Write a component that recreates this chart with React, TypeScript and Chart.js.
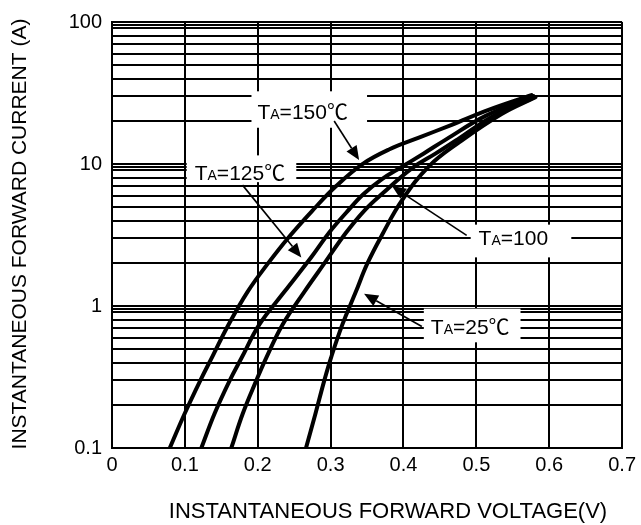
import React, { useEffect, useRef } from 'react';
import { Chart, registerables } from 'chart.js';

Chart.register(...registerables);

const FONT_FAMILY = '"Liberation Sans", Arial, Helvetica, sans-serif';
const SYMBOL_FAMILY = '"Liberation Sans", "Noto Sans CJK SC", "DejaVu Sans", sans-serif';

// ---- data (forward voltage V, forward current A) ----
const seriesNames = ['TA=150℃', 'TA=125℃', 'TA=100℃', 'TA=25℃'];

const v150 = [0.0793, 0.0998, 0.1203, 0.1381, 0.1586, 0.186, 0.2133, 0.2434, 0.2748, 0.3076, 0.3432, 0.3801, 0.4211, 0.4662, 0.5168, 0.5756];
const i150 = [0.1, 0.175, 0.2925, 0.444, 0.718, 1.258, 1.971, 3.087, 4.683, 6.99, 9.95, 12.65, 15.33, 18.88, 24.02, 30.54];

const v125 = [0.1226, 0.1408, 0.1613, 0.1777, 0.2023, 0.2365, 0.2734, 0.2981, 0.3213, 0.3445, 0.3705, 0.3979, 0.4279, 0.458, 0.5127, 0.5783];
const i125 = [0.1, 0.175, 0.297, 0.43, 0.742, 1.258, 2.204, 3.291, 4.535, 6.1, 7.82, 9.555, 11.87, 14.85, 21.82, 30.06];

const v100 = [0.1637, 0.1795, 0.1978, 0.2115, 0.2342, 0.2639, 0.2926, 0.3213, 0.3473, 0.3719, 0.4115, 0.4444, 0.4758, 0.521, 0.5797];
const i100 = [0.1, 0.175, 0.297, 0.43, 0.742, 1.258, 2.035, 3.291, 4.76, 6.25, 9.33, 11.87, 15.09, 21.47, 29.58];

const v25 = [0.2662, 0.2789, 0.2912, 0.3004, 0.3162, 0.3346, 0.35, 0.3709, 0.3983, 0.4348, 0.4758, 0.5346, 0.5811];
const i25 = [0.1, 0.1723, 0.297, 0.43, 0.742, 1.258, 1.971, 3.188, 5.585, 9.63, 14.15, 22.52, 29.58];

const seriesV = [v150, v125, v100, v25];
const seriesI = [i150, i125, i100, i25];

// ---- axes ----
const xTickValues = [0, 0.1, 0.2, 0.3, 0.4, 0.5, 0.6, 0.7];
const xTickLabels = ['0', '0.1', '0.2', '0.3', '0.4', '0.5', '0.6', '0.7'];
const yGridValues = [
  0.1, 0.2, 0.3, 0.4, 0.5, 0.6, 0.7, 0.8, 0.9, 0.95,
  1, 2, 3, 4, 5, 6, 7, 8, 9, 9.5,
  10, 20, 30, 40, 50, 60, 70, 80, 90, 95,
  100,
];
const yLabelValues = [0.1, 1, 10, 100];
const yLabelTexts = ['0.1', '1', '10', '100'];

const xTitle = 'INSTANTANEOUS FORWARD VOLTAGE(V)';
const yTitle = 'INSTANTANEOUS FORWARD CURRENT (A)';

// ---- annotations (data coordinates) ----
const annoLabels = ['TA=150℃', 'TA=125℃', 'TA=100', 'TA=25℃'];
const annoTextV = [0.1996, 0.1135, 0.5031, 0.4375];
const annoTextBaseI = [20.8, 7.73, 2.67, 0.631];
const annoBoxV0 = [0.1914, 0.1025, 0.4922, 0.4279];
const annoBoxV1 = [0.35, 0.2529, 0.6303, 0.5606];
const annoBoxITop = [32.5, 11.5, 3.74, 0.958];
const annoBoxIBottom = [18.0, 7.45, 2.20, 0.555];
const arrowTailV = [0.3049, 0.1791, 0.4867, 0.4252];
const arrowTailI = [20.1, 7.10, 3.14, 0.718];
const arrowTipV = [0.3391, 0.2598, 0.3842, 0.3459];
const arrowTipI = [10.66, 2.20, 6.99, 1.218];

function drawArrow(ctx: CanvasRenderingContext2D, x0: number, y0: number, x1: number, y1: number) {
  const ang = Math.atan2(y1 - y0, x1 - x0);
  const headLen = 14;
  const headHalf = 6;
  const bx = x1 - headLen * Math.cos(ang);
  const by = y1 - headLen * Math.sin(ang);
  ctx.strokeStyle = '#000';
  ctx.fillStyle = '#000';
  ctx.lineWidth = 1.6;
  ctx.beginPath();
  ctx.moveTo(x0, y0);
  ctx.lineTo(bx, by);
  ctx.stroke();
  ctx.beginPath();
  ctx.moveTo(x1, y1);
  ctx.lineTo(bx - headHalf * Math.sin(ang), by + headHalf * Math.cos(ang));
  ctx.lineTo(bx + headHalf * Math.sin(ang), by - headHalf * Math.cos(ang));
  ctx.closePath();
  ctx.fill();
}

const annotationPlugin = {
  id: 'curveAnnotations',
  afterDraw(chart: any) {
    const { ctx } = chart;
    const xs = chart.scales.x;
    const ys = chart.scales.y;
    ctx.save();
    for (let i = 0; i < annoLabels.length; i++) {
      const bx0 = xs.getPixelForValue(annoBoxV0[i]);
      const bx1 = xs.getPixelForValue(annoBoxV1[i]);
      const by0 = ys.getPixelForValue(annoBoxITop[i]);
      const by1 = ys.getPixelForValue(annoBoxIBottom[i]);
      ctx.fillStyle = '#fff';
      ctx.fillRect(bx0, by0, bx1 - bx0, by1 - by0);

      drawArrow(
        ctx,
        xs.getPixelForValue(arrowTailV[i]),
        ys.getPixelForValue(arrowTailI[i]),
        xs.getPixelForValue(arrowTipV[i]),
        ys.getPixelForValue(arrowTipI[i]),
      );

      const label = annoLabels[i];
      let tx = xs.getPixelForValue(annoTextV[i]);
      const ty = ys.getPixelForValue(annoTextBaseI[i]);
      ctx.fillStyle = '#000';
      ctx.textBaseline = 'alphabetic';
      ctx.textAlign = 'left';
      ctx.font = `21px ${FONT_FAMILY}`;
      ctx.fillText(label[0], tx, ty);
      tx += ctx.measureText(label[0]).width;
      ctx.font = `14px ${FONT_FAMILY}`;
      ctx.fillText(label[1], tx, ty);
      tx += ctx.measureText(label[1]).width;
      ctx.font = `21px ${SYMBOL_FAMILY}`;
      ctx.fillText(label.slice(2), tx, ty);
    }

    // axis titles
    const ca = chart.chartArea;
    ctx.fillStyle = '#000';
    ctx.textAlign = 'center';
    ctx.textBaseline = 'middle';
    ctx.font = `22px ${FONT_FAMILY}`;
    ctx.fillText(xTitle, ca.left + (ca.right - ca.left) * 0.541, 512);
    ctx.font = `21px ${FONT_FAMILY}`;
    ctx.save();
    ctx.translate(20, (ca.top + ca.bottom) / 2 - 1);
    ctx.rotate(-Math.PI / 2);
    ctx.fillText(yTitle, 0, 0);
    ctx.restore();
    ctx.restore();
  },
};

export default function App() {
  const canvasRef = useRef<HTMLCanvasElement>(null);

  useEffect(() => {
    const canvas = canvasRef.current;
    if (!canvas) return;
    const datasets = seriesNames.map((name, k) => ({
      label: name,
      data: seriesV[k].map((v, j) => ({ x: v, y: seriesI[k][j] })),
      borderColor: '#000',
      backgroundColor: '#000',
      borderWidth: 4,
      pointRadius: 0,
      fill: false,
      tension: 0.4,
      borderCapStyle: 'round' as const,
      borderJoinStyle: 'round' as const,
    }));

    const chart = new Chart(canvas, {
      type: 'line',
      data: { datasets },
      options: {
        responsive: false,
        animation: false,
        layout: { padding: { left: 0, right: 17, top: 17, bottom: 0 } },
        plugins: {
          legend: { display: false },
          tooltip: { enabled: false },
          title: { display: false },
        },
        scales: {
          x: {
            type: 'linear',
            min: 0,
            max: 0.7,
            afterBuildTicks: (s: any) => {
              s.ticks = xTickValues.map((value) => ({ value }));
            },
            afterFit: (s: any) => {
              s.height = 77;
            },
            ticks: {
              autoSkip: false,
              maxRotation: 0,
              padding: 5,
              color: '#000',
              font: { family: FONT_FAMILY, size: 20 },
              callback: (_v: any, i: number) => xTickLabels[i],
            },
            grid: { color: '#000', lineWidth: 2, drawTicks: false },
            border: { display: true, color: '#000', width: 2 },
          },
          y: {
            type: 'logarithmic',
            min: 0.1,
            max: 100,
            afterBuildTicks: (s: any) => {
              s.ticks = yGridValues.map((value) => ({ value }));
            },
            afterFit: (s: any) => {
              s.width = 112;
            },
            ticks: {
              autoSkip: false,
              padding: 10,
              color: '#000',
              font: { family: FONT_FAMILY, size: 20 },
              callback: (v: any) => {
                const idx = yLabelValues.findIndex((lv) => Math.abs(lv - Number(v)) / lv < 1e-6);
                return idx >= 0 ? yLabelTexts[idx] : '';
              },
            },
            grid: { color: '#000', lineWidth: 2, drawTicks: false },
            border: { display: true, color: '#000', width: 2 },
          },
        },
      },
      plugins: [annotationPlugin],
    });
    return () => chart.destroy();
  }, []);

  return (
    <div style={{ position: 'absolute', left: 0, top: 0, width: 641, height: 525, background: '#fff' }}>
      <canvas ref={canvasRef} width={641} height={525} style={{ display: 'block', width: 641, height: 525 }} />
    </div>
  );
}
